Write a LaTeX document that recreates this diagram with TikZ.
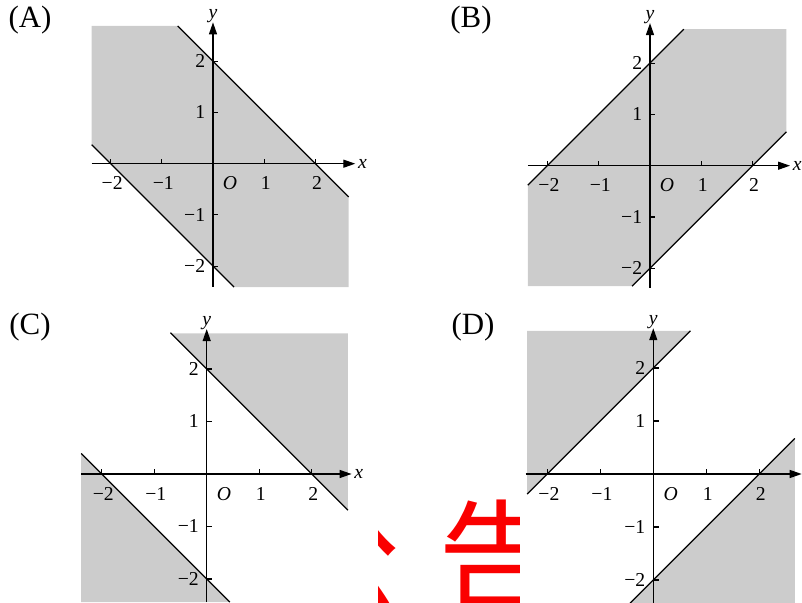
\documentclass[tikz,border=0pt]{standalone}
\usepackage{fontspec}
\setmainfont{Liberation Serif}
\newfontfamily\cjk{Noto Sans CJK SC}
\usepackage{xcolor}
\usetikzlibrary{arrows.meta}
\definecolor{shade}{RGB}{204,204,204}
\definecolor{stamp}{RGB}{250,0,0}
\tikzset{
  axis/.style={line width=0.9pt, -{Triangle[length=3mm, width=2mm]}},
  bound/.style={line width=0.9pt},
  tickmark/.style={line width=0.8pt},
  region/.style={fill=shade, draw=none},
  ticklab/.style={font=\fontsize{14}{16}\selectfont, inner sep=1pt},
  tag/.style={font=\fontsize{22}{26}\selectfont, inner sep=0pt},
  stampchar/.style={font=\cjk\fontsize{86}{90}\selectfont, text=stamp, inner sep=0pt}
}
% axes with ticks: #1 name, #2 x min, #3 x max, #4 y min, #5 y max, #6 x label
\newcommand{\axes}[6]{%
  \draw[axis] (#2,0) -- (#3,0);
  \draw[axis] (0,#4) -- (0,#5);
  \foreach \t/\s in {-2/−2,-1/−1,1/1,2/2} {
    \draw[tickmark] (\t,0) -- (\t,0.09);
    \draw[tickmark] (0,\t) -- (0.1,\t);
    \node[ticklab, anchor=north] (#1x\t) at (\t+0.03,-0.22) {\s};
    \node[ticklab, anchor=east] (#1y\t) at (-0.12,\t) {\s};
  }
  \node[ticklab] (#1o) at (0.33,-0.38) {\textit{O}};
  \node[ticklab, anchor=west] (#1xl) at (#3+0.02,0) {#6};
  \node[ticklab, anchor=south] (#1yl) at (0,#5-0.04) {\textit{y}};
}

\begin{document}
\begin{tikzpicture}[x=0.025cm, y=0.025cm]
  \useasboundingbox (0,0) rectangle (802,603);

  % (A) -2 <= x+y <= 2
  \begin{scope}[shift={(213,439.3)}, scale=51.2]
    \fill[region] (-2.37,2.69) -- (-0.69,2.69) -- (2.65,-0.65) -- (2.65,-2.41)
      -- (0.41,-2.41) -- (-2.37,0.37) -- cycle;
    \draw[bound] (-0.69,2.69) -- (2.65,-0.65);
    \draw[bound] (-2.37,0.37) -- (0.41,-2.41);
    \axes{a}{-2.37}{2.78}{-2.40}{2.76}{\textit{x}}
  \end{scope}
  \node[tag] (tagA) at (30,583) {(A)};

  % (B) -2 <= x-y <= 2
  \begin{scope}[shift={(650,437.3)}, scale=51.3]
    \fill[region] (0.66,2.66) -- (2.66,2.66) -- (2.66,0.66) -- (-0.35,-2.35)
      -- (-2.38,-2.35) -- (-2.38,-0.38) -- cycle;
    \draw[bound] (-2.38,-0.38) -- (0.66,2.66);
    \draw[bound] (-0.35,-2.35) -- (2.66,0.66);
    \axes{b}{-2.38}{2.73}{-2.38}{2.78}{\textit{x}}
  \end{scope}
  \node[tag] (tagB) at (471,583) {(B)};

  % (C) |x+y| >= 2
  \begin{scope}[shift={(206.7,129)}, scale=52.5]
    \fill[region] (-0.69,2.68) -- (2.69,2.68) -- (2.69,-0.69) -- cycle;
    \fill[region] (-2.39,0.39) -- (0.44,-2.44) -- (-2.39,-2.44) -- cycle;
    \draw[bound] (-0.69,2.69) -- (2.69,-0.69);
    \draw[bound] (-2.39,0.39) -- (0.44,-2.44);
    \axes{c}{-2.39}{2.76}{-2.44}{2.76}{\textit{x}}
  \end{scope}
  \node[tag] (tagC) at (30,276) {(C)};

  % (D) |x-y| >= 2
  \begin{scope}[shift={(653.3,129)}, scale=53]
    \fill[region] (-2.38,2.70) -- (0.70,2.70) -- (-2.38,-0.38) -- cycle;
    \fill[region] (2.67,0.67) -- (2.67,-2.44) -- (-0.44,-2.44) -- cycle;
    \draw[bound] (-2.38,-0.38) -- (0.70,2.70);
    \draw[bound] (-0.44,-2.44) -- (2.67,0.67);
    \axes{d}{-2.41}{2.80}{-2.44}{2.75}{}
  \end{scope}
  \node[tag] (tagD) at (473,276) {(D)};

  % red stamp, cut off
  \begin{scope}
    \clip (378,0) rectangle (519,133);
    \node[stampchar] (stampL) at (340,47) {公};
    \node[stampchar] (stampR) at (499,47) {告};
  \end{scope}
\end{tikzpicture}
\end{document}
